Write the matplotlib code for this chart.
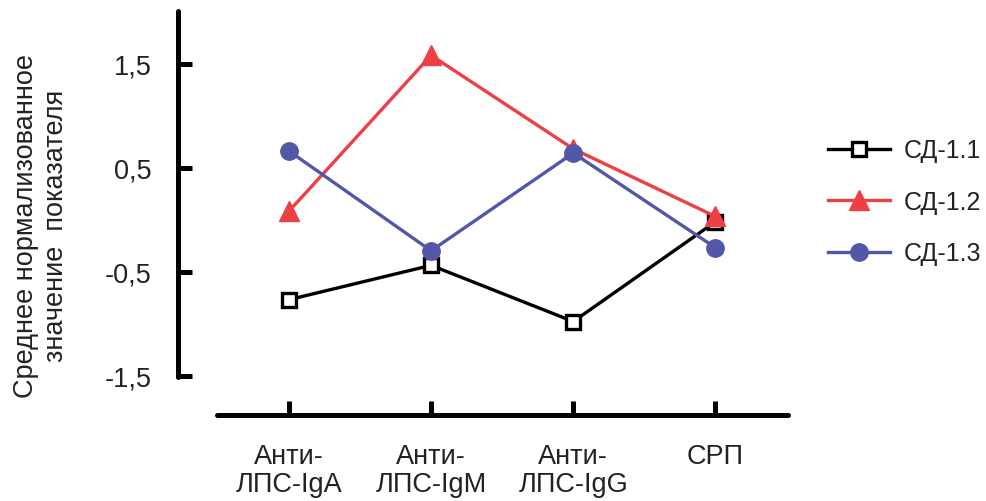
import matplotlib
matplotlib.use("Agg")
import matplotlib.pyplot as plt

plt.rcParams['font.family'] = ['Liberation Sans', 'DejaVu Sans']

categories = ["Анти-\nЛПС-IgA", "Анти-\nЛПС-IgM", "Анти-\nЛПС-IgG", "СРП"]
sd11 = [-0.77, -0.44, -0.98, -0.02]
sd12 = [0.08, 1.58, 0.68, 0.03]
sd13 = [0.66, -0.30, 0.64, -0.27]
yticks = [-1.5, -0.5, 0.5, 1.5]
ytick_labels = ["-1,5", "-0,5", "0,5", "1,5"]

W, H = 987, 502
fig = plt.figure(figsize=(W / 100, H / 100), dpi=100)
ax = fig.add_axes([178 / W, 1 - 416 / H, (788 - 178) / W, (416 - 12) / H])

x = list(range(len(categories)))
red = '#EE3F45'
blue = '#5257A7'
ax.plot(x, sd11, color='black', lw=2.4, marker='s', ms=10.5, mfc='white',
        mec='black', mew=2.4, label='СД-1.1', zorder=3)
ax.plot(x, sd12, color=red, lw=2.4, marker='^', ms=14, mfc=red, mec=red,
        label='СД-1.2', zorder=3)
ax.plot(x, sd13, color=blue, lw=2.4, marker='o', ms=12.5, mfc=blue, mec=blue,
        label='СД-1.3', zorder=3)

ax.set_xlim(-0.78, 3.51)
ax.set_ylim(-1.879, 2.006)

for s in ['top', 'right']:
    ax.spines[s].set_visible(False)
for s in ['left', 'bottom']:
    ax.spines[s].set_linewidth(3.6)
    ax.spines[s].set_capstyle('round')
ax.spines['left'].set_bounds(-1.513, 2.006)
ax.spines['bottom'].set_bounds(-0.507, 3.51)

ax.set_yticks(yticks)
ax.set_yticklabels(ytick_labels)
ax.set_xticks(x)
ax.set_xticklabels(categories, linespacing=1.12)
ax.tick_params(axis='y', direction='in', length=10, width=3.6, pad=19,
               labelsize=19.5, labelcolor='#222222')
ax.tick_params(axis='x', direction='in', length=10, width=3.6, pad=20,
               labelsize=19.5, labelcolor='#222222')

fig.text(41.5 / W, 1 - 226 / H, "Среднее нормализованное\nзначение  показателя",
         rotation=90, ha='center', va='center', fontsize=19.5, linespacing=1.2,
         multialignment='center', color='#222222')

leg = ax.legend(loc='center left', bbox_to_anchor=(828 / W, 1 - 203 / H),
                bbox_transform=fig.transFigure, frameon=False, fontsize=18,
                borderpad=0, borderaxespad=0,
                handlelength=2.5, handletextpad=0.52, labelspacing=1.1)
for t in leg.get_texts():
    t.set_color('#222222')

fig.savefig("out.png", dpi=100)
